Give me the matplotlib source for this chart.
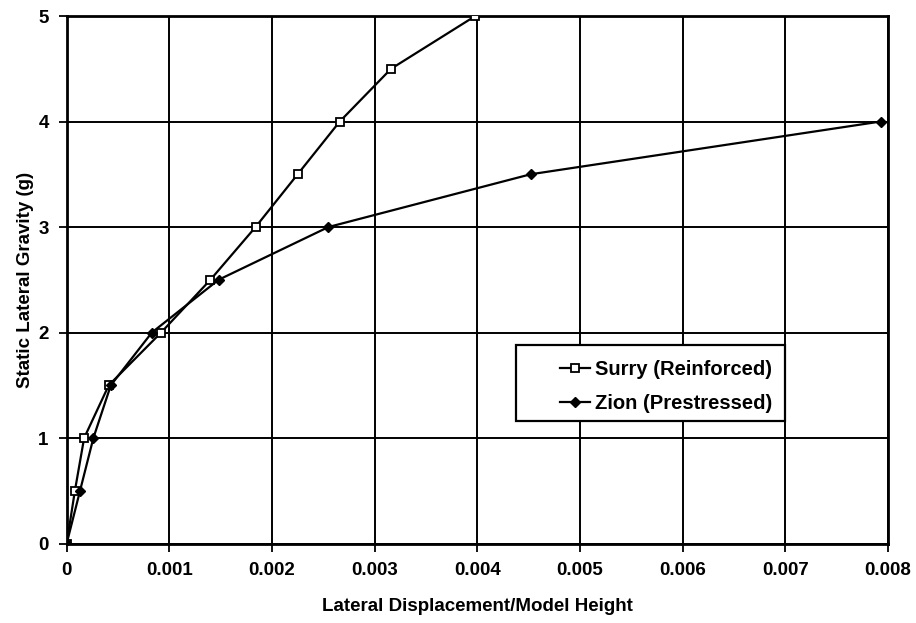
import matplotlib.pyplot as plt
from matplotlib.patches import Rectangle

plt.rcParams['font.family'] = ['Liberation Sans', 'DejaVu Sans']

# Surry (reinforced) - open squares
surry_x = [0, 0.00008, 0.00017, 0.00041, 0.00092, 0.00140, 0.00184, 0.00225, 0.00266, 0.00316, 0.00398]
surry_y = [0, 0.5, 1.0, 1.5, 2.0, 2.5, 3.0, 3.5, 4.0, 4.5, 5.0]

# Zion (prestressed) - filled diamonds
zion_x = [0, 0.00013, 0.00026, 0.00043, 0.00083, 0.00148, 0.00255, 0.00452, 0.00793]
zion_y = [0, 0.5, 1.0, 1.5, 2.0, 2.5, 3.0, 3.5, 4.0]

x_ticks = [0, 0.001, 0.002, 0.003, 0.004, 0.005, 0.006, 0.007, 0.008]
x_tick_labels = ['0', '0.001', '0.002', '0.003', '0.004', '0.005', '0.006', '0.007', '0.008']
y_ticks = [0, 1, 2, 3, 4, 5]

fig = plt.figure(figsize=(9.16, 6.23), dpi=100)
ax = fig.add_axes([0.0728, 0.1276, 0.8966, 0.8467])

ax.plot(surry_x, surry_y, color='black', lw=1.6, marker='s', ms=6,
        mfc='white', mec='black', mew=1.3, label='Surry (Reinforced)', zorder=3)
ax.plot(zion_x, zion_y, color='black', lw=1.6, marker='D', ms=5,
        mfc='black', mec='black', label='Zion (Prestressed)', zorder=3)

ax.set_xlim(0, 0.008)
ax.set_ylim(0, 5)
ax.set_xticks(x_ticks)
ax.set_xticklabels(x_tick_labels)
ax.set_yticks(y_ticks)
ax.grid(True, color='black', lw=1.4)
ax.set_axisbelow(True)

for s in ax.spines.values():
    s.set_linewidth(2)

ax.tick_params(axis='both', direction='out', length=6, width=1.3, labelsize=13.5, pad=7)
for lab in ax.get_xticklabels() + ax.get_yticklabels():
    lab.set_fontweight('bold')

ax.set_xlabel('Lateral Displacement/Model Height', fontsize=13.5, fontweight='bold', labelpad=14)
ax.set_ylabel('Static Lateral Gravity (g)', fontsize=13.5, fontweight='bold', labelpad=3)

# legend frame drawn separately so the left padding matches
ax.add_patch(Rectangle((0.547, 0.232), 0.3275, 0.144, transform=ax.transAxes,
                       facecolor='white', edgecolor='black', lw=1.6, zorder=4))
leg = ax.legend(loc='center left', bbox_to_anchor=(0.5885, 0.2968), frameon=False,
                handlelength=1.5, handletextpad=0.25, borderpad=0, labelspacing=0.75,
                prop={'size': 14.5, 'weight': 'bold'})
leg.set_zorder(5)

fig.savefig('out.png', dpi=100)
